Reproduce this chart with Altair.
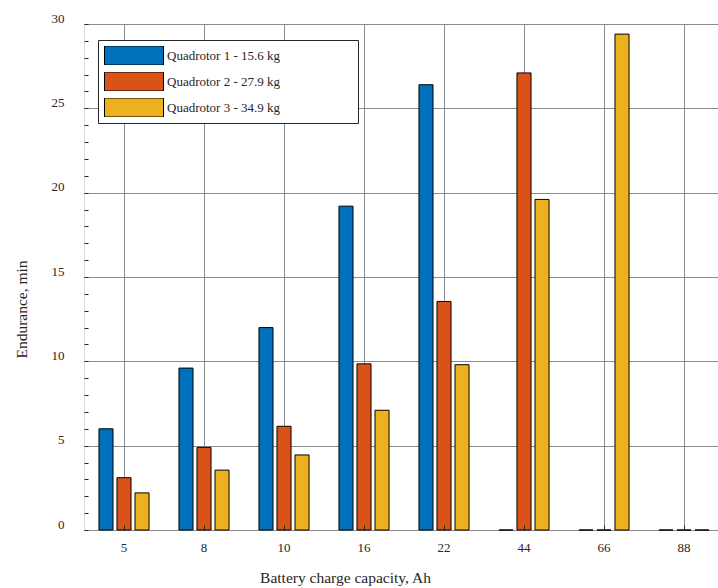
import altair as alt
import pandas as pd

capacities = ["5", "8", "10", "16", "22", "44", "66", "88"]
series_names = ["Quadrotor 1 - 15.6 kg", "Quadrotor 2 - 27.9 kg", "Quadrotor 3 - 34.9 kg"]
quad1 = [6.0, 9.6, 12.0, 19.2, 26.4, 0, 0, 0]
quad2 = [3.1, 4.9, 6.15, 9.85, 13.55, 27.1, 0, 0]
quad3 = [2.2, 3.55, 4.45, 7.1, 9.8, 19.6, 29.4, 0]
colors = ["#0072BD", "#D95319", "#EDB120"]
y_ticks = [0, 5, 10, 15, 20, 25, 30]
y_minor_ticks = list(range(0, 31))

rows = []
for name, vals in zip(series_names, [quad1, quad2, quad3]):
    for c, v in zip(capacities, vals):
        rows.append({"Capacity": c, "Series": name, "Endurance": v})
df = pd.DataFrame(rows)

FONT = "Liberation Serif"
TXT = "#262626"
pad = "\\u00a0" * 22 + "\\u200b"

x_scale = alt.Scale(paddingInner=0, paddingOuter=0)
y_scale = alt.Scale(domain=[0, 30], nice=False)
off_scale = alt.Scale(paddingInner=0.22, paddingOuter=0.83)

bars = alt.Chart(df).mark_bar(stroke="black", strokeWidth=1, opacity=1).encode(
    x=alt.X(
        "Capacity:N", sort=capacities, scale=x_scale,
        axis=alt.Axis(
            title="Battery charge capacity, Ah", orient="bottom",
            labelAngle=0, ticks=False, tickSize=0, domain=False,
            grid=True, gridColor="#8c8c8c", gridWidth=1, tickBand="center",
            labelPadding=17, labelBaseline="middle",
            labelFont=FONT, labelFontSize=13, labelColor=TXT,
            titleFont=FONT, titleFontSize=15.5, titleFontWeight="normal", titleColor=TXT,
            titleX=261, titleY=47, titleAlign="center", titleBaseline="middle",
        ),
    ),
    xOffset=alt.XOffset("Series:N", sort=series_names, scale=off_scale),
    y=alt.Y(
        "Endurance:Q", scale=y_scale,
        axis=alt.Axis(
            title="Endurance, min", orient="left", values=y_ticks,
            ticks=False, tickSize=0, domain=False,
            grid=True, gridColor="#8c8c8c", gridWidth=1,
            labelPadding=20, labelOffset=-6, labelFlush=False, labelOverlap=False,
            labelFont=FONT, labelFontSize=13, labelColor=TXT,
            titleFont=FONT, titleFontSize=15.5, titleFontWeight="normal", titleColor=TXT,
            titleX=-63, titleY=285, titleAlign="center", titleBaseline="middle", titleAngle=270,
        ),
    ),
    color=alt.Color(
        "Series:N", sort=series_names,
        scale=alt.Scale(domain=series_names, range=colors),
        legend=alt.Legend(
            title=None, orient="none", legendX=14, legendY=16,
            symbolType="M-1,-0.322H1V0.322H-1Z", symbolSize=3481,
            symbolStrokeColor="black", symbolStrokeWidth=1, symbolOpacity=1,
            labelFont=FONT, labelFontSize=13, labelColor=TXT, labelOffset=3,
            labelLimit=400, labelExpr=f"datum.label + '{pad}'",
            padding=6, strokeColor="#262626", fillColor="white",
            rowPadding=7, clipHeight=19,
        ),
    ),
)

# inward ticks (drawn as axes shifted into the plot area)
inner_ticks = alt.Chart(df).mark_bar(opacity=0).encode(
    x=alt.X(
        "Capacity:N", sort=capacities, scale=x_scale,
        axis=alt.Axis(
            title=None, orient="bottom", labels=False, domain=False, grid=False,
            ticks=True, tickSize=5, tickColor=TXT, tickWidth=1, tickBand="center",
            offset=-5, zindex=1,
        ),
    ),
    xOffset=alt.XOffset("Series:N", sort=series_names, scale=off_scale),
    y=alt.Y(
        "Endurance:Q", scale=y_scale,
        axis=alt.Axis(
            title=None, orient="left", values=y_minor_ticks, labels=False,
            domain=False, grid=False, ticks=True, tickSize=4, tickColor=TXT,
            tickWidth=1, offset=-4, zindex=1,
        ),
    ),
)

chart = alt.layer(bars, inner_ticks).resolve_axis(
    x="independent", y="independent"
).properties(
    width=640, height=506,
    autosize=alt.AutoSizeParams(type="none"),
    padding={"left": 84, "top": 24, "right": -6, "bottom": 58},
).configure_view(stroke="black", strokeWidth=1).configure(background="white")

chart.save("out.html", embed_options={"renderer": "svg", "actions": False})
